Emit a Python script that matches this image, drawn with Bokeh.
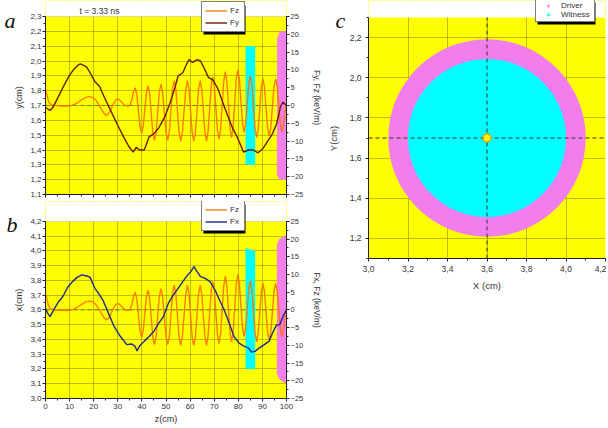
import math
from bokeh.plotting import figure
from bokeh.models import (Range1d, LinearAxis, Legend, LegendItem, Label, BoxAnnotation,
                          SingleIntervalTicker, CustomJSTickFormatter)
from bokeh.layouts import row, column
from bokeh.embed import file_html
from bokeh.resources import INLINE

# ---------------- data ----------------
# longitudinal field Fz (keV/m) along z (cm)
z_fz = [0.0, 0.6, 1.2, 2.0, 3.0, 5.0, 8.0, 10.0, 12.0, 13.5, 15.0, 16.5, 18.0, 19.5, 20.8,
        22.0, 23.2, 24.3, 25.2, 26.2, 27.2, 28.3, 29.5, 30.5, 31.7, 32.8, 34.0, 35.0, 35.8,
        36.5, 37.2,
        37.9, 38.55, 39.2, 39.9, 40.55, 41.2, 41.85, 42.5, 43.2, 43.85, 44.5, 45.2,
        45.9, 46.55, 47.2, 47.9, 48.6, 49.3, 50.0, 50.7, 51.4, 52.05, 52.7, 53.4,
        54.1, 54.75, 55.4, 56.1, 56.8, 57.5, 58.2, 58.9, 59.55, 60.2, 60.85, 61.5,
        62.2, 62.85, 63.5, 64.2, 64.85, 65.5, 66.15, 66.8, 67.45, 68.1, 68.75, 69.4,
        70.05, 70.7, 71.35, 72.0, 72.65, 73.3, 73.95, 74.6, 75.25, 75.9, 76.55, 77.2,
        77.85, 78.5, 79.15, 79.8, 80.45, 81.1, 81.75, 82.4, 83.05, 83.7, 84.35, 85.0,
        85.65, 86.3, 86.95, 87.6, 88.25, 88.9, 89.55, 90.2, 90.85, 91.5, 92.15, 92.8,
        93.5, 94.15, 94.8, 95.5, 96.15, 96.8, 97.45, 98.1, 98.8, 99.4, 100.0]
fz = [4.5, 3.0, 1.3, 0.4, 0.1, 0.0, -0.2, -0.1, 0.3, 0.9, 1.6, 2.2, 2.5, 2.3, 1.6,
      0.4, -1.0, -2.2, -2.8, -2.3, -1.0, 0.6, 1.8, 1.7, 0.9, 0.1, -0.2, 0.0, 1.5,
      3.8, 5.0,
      3.1, -1.4, -5.9, -7.8, -5.8, -1.1, 3.6, 5.6, 3.3, -2.1, -7.5, -9.8,
      -7.5, -1.9, 3.7, 6.0, 3.7, -1.9, -7.5, -9.8, -7.3, -1.4, 4.5, 7.0,
      4.5, -1.5, -7.5, -10.0, -7.5, -1.5, 4.5, 7.0, 4.5, -1.5, -7.5, -10.0,
      -7.5, -1.5, 4.5, 7.0, 4.5, -1.5, -7.5, -10.0, -7.4, -1.0, 5.4, 8.0,
      5.4, -0.8, -6.9, -9.5, -6.7, 0.0, 6.7, 9.5, 6.8, 0.3, -6.3, -9.0,
      -6.2, 0.5, 7.2, 10.0, 7.4, 1.2, -4.9, -7.5, -5.2, 0.4, 6.0, 8.3,
      5.8, -0.4, -6.5, -9.0, -6.6, -0.8, 5.1, 7.5, 5.2, -0.5, -6.2, -8.5,
      -6.2, -0.5, 5.2, 7.5, 5.3, 0.0, -5.3, -7.5, -5.0, -1.5, 0.5]

# transverse field Fy (keV/m), panel a
z_fy = [0.0, 1.0, 1.9, 3.2, 5.2, 7.2, 9.8, 11.8, 13.8, 14.5, 15.8, 17.1, 18.5, 20.5, 22.4,
        24.4, 27.1, 29.7, 32.4, 34.4, 36.4, 37.7, 39.0, 41.0, 43.0, 45.0, 47.0, 49.7,
        51.7, 53.7, 55.0, 57.0, 58.3, 59.6, 61.0, 62.9, 64.3, 65.6, 67.6, 69.6, 71.6,
        73.6, 75.6, 77.6, 79.5, 82.2, 84.2, 86.2, 88.2, 90.2, 92.2, 94.2, 95.9, 97.5,
        98.5, 99.9]
fy = [-0.5, -1.0, -1.4, -0.4, 2.3, 5.0, 8.3, 10.2, 11.5, 11.7, 11.3, 10.8, 9.2, 6.7, 5.4,
      2.3, -1.5, -5.2, -8.8, -11.3, -13.1, -11.7, -12.5, -12.5, -8.8, -7.9, -6.3, -2.9,
      0.8, 5.0, 8.3, 9.2, 11.3, 12.9, 12.1, 12.9, 12.5, 10.8, 7.9, 7.1, 4.6,
      0.8, -2.9, -6.3, -8.8, -13.1, -12.5, -12.5, -13.3, -12.1, -10.0, -7.9, -5.2, -0.4,
      1.0, 0.0]

# transverse field Fx (keV/m), panel b
z_fx = [0.0, 0.8, 1.9, 3.2, 5.2, 7.2, 9.2, 11.2, 13.1, 15.1, 17.1, 18.5, 20.5, 22.0, 23.8,
        25.8, 28.4, 31.1, 33.7, 35.7, 37.1, 38.0, 39.0, 41.0, 43.0, 45.0, 47.0, 49.0,
        51.0, 53.0, 55.0, 57.0, 59.0, 60.3, 61.6, 62.9, 64.3, 66.3, 68.3, 70.3, 72.2,
        74.2, 76.2, 78.2, 80.2, 82.2, 84.2, 85.5, 86.9, 88.8, 90.8, 92.8, 94.2, 95.9,
        97.2, 98.8, 100.0]
fx = [0.5, -0.8, -1.9, -0.2, 2.1, 3.8, 6.4, 8.0, 9.2, 9.9, 9.6, 9.2, 6.1, 4.7, 2.8,
      -0.4, -4.6, -7.5, -9.8, -9.6, -10.2, -11.6, -10.2, -8.8, -7.5, -6.0, -3.7, -1.8,
      1.9, 4.2, 6.1, 8.0, 9.9, 10.8, 12.2, 10.8, 9.4, 8.9, 8.0, 5.7, 2.8,
      0.0, -3.7, -7.5, -9.3, -10.2, -10.7, -11.9, -11.7, -10.7, -9.8, -8.8, -6.5, -4.2,
      -4.2, -1.4, 0.0]

# bunch regions (z in cm, transverse in cm)
witness_a_z = [83.0, 83.0, 87.0, 87.0]
witness_a_y = [1.30, 2.10, 2.10, 1.30]
driver_a_z = [96.0, 96.1, 97.2, 100.0, 100.0, 97.2, 96.1]
driver_a_y = [1.26, 2.15, 2.20, 2.20, 1.20, 1.20, 1.23]
witness_b_z = [83.0, 83.0, 87.0, 87.0]
witness_b_x = [3.20, 4.02, 4.00, 3.20]
driver_b_z = [96.0, 96.0, 97.0, 100.0, 100.0, 97.0]
driver_b_x = [3.17, 4.04, 4.08, 4.11, 3.10, 3.13]

z_lim = (0.0, 100.0)
y_lim_a = (1.1, 2.3)
x_lim_b = (3.0, 4.2)
f_lim = (-25.0, 25.0)
axis_y_a = 1.7
axis_x_b = 3.6

# transverse cross-section, panel c
X_lim = (3.0, 4.2)
Y_lim = (1.1, 2.3)
beam_x = [3.6]
beam_y = [1.7]
driver_r = 0.5
witness_r = 0.4
hole_r = 0.02

time_text = "t = 3.33 ns"

# ---------------- style ----------------
FONT = "Liberation Sans"
YELLOW = "#FFFF00"
CYAN = "#00FFFF"
PINK = "#F27EEE"
GRID = "#A0A000"
TXT = "#333333"
FZ_COLOR = "#FF7000"
FY_COLOR = "#6A2000"
FX_COLOR = "#1C2B8C"
EPS = 1e-9

comma = CustomJSTickFormatter(code="return tick.toFixed(1).replace('.', ',');")
blank = CustomJSTickFormatter(code="return '';")


def style_axis(ax, label=None):
    if label is not None:
        ax.axis_label = label
    ax.axis_label_text_font = FONT
    ax.axis_label_text_font_size = "9px"
    ax.axis_label_text_font_style = "normal"
    ax.axis_label_text_color = TXT
    ax.axis_label_standoff = 3
    ax.major_label_text_font = FONT
    ax.major_label_text_font_size = "8px"
    ax.major_label_text_color = TXT
    ax.major_label_standoff = 2
    ax.major_tick_out = 3
    ax.major_tick_in = 0
    ax.minor_tick_out = 2
    ax.minor_tick_in = 0
    ax.axis_line_color = "#222222"
    ax.major_tick_line_color = "#222222"
    ax.minor_tick_line_color = "#222222"


def add_legend(p, pairs, loc, glyph_width=22, label_h=11, label_w=11, pad=3, spacing=1):
    n = len(pairs)
    w = 2 * pad + glyph_width + 3 + label_w
    h = 2 * pad + n * label_h + (n - 1) * spacing
    # drop shadow behind the legend box
    p.add_layout(BoxAnnotation(left=loc[0] + 2, right=loc[0] + w + 2,
                               bottom=loc[1] - 2, top=loc[1] + h - 2,
                               left_units="screen", right_units="screen",
                               bottom_units="screen", top_units="screen",
                               fill_color="black", fill_alpha=1.0, line_color=None))
    lg = Legend(items=[LegendItem(label=t, renderers=[r]) for t, r in pairs], location=loc)
    lg.label_text_font = FONT
    lg.label_text_font_size = "8px"
    lg.label_text_color = TXT
    lg.glyph_width = glyph_width
    lg.glyph_height = label_h
    lg.label_height = label_h
    lg.label_width = label_w
    lg.label_standoff = 3
    lg.padding = pad
    lg.spacing = spacing
    lg.margin = 0
    lg.border_line_color = "black"
    lg.border_line_width = 1
    lg.background_fill_color = "white"
    lg.background_fill_alpha = 1.0
    p.add_layout(lg)


def letter(p, text, x, y):
    # placed in the left side panel, outside the plotting frame
    p.add_layout(Label(x=x, y=y, x_units="screen", y_units="screen", text=text,
                       text_font="Liberation Serif", text_font_style="italic",
                       text_font_size="22px", text_color="#111111",
                       text_baseline="alphabetic"), "left")


def field_panel(height, pad_top, frame_px, bottom, lim, ylabel, flabel, show_x):
    # the frame reaches the top of the canvas so the legend can sit above the data area
    ext = pad_top * (lim[1] - lim[0]) / frame_px
    y_top = lim[1] + ext
    f_top = f_lim[1] + ext * (f_lim[1] - f_lim[0]) / (lim[1] - lim[0])
    p = figure(width=325, height=height, x_range=Range1d(*z_lim), y_range=Range1d(lim[0], y_top),
               output_backend="svg", toolbar_location=None,
               min_border_left=42, min_border_right=32,
               min_border_top=0, min_border_bottom=bottom,
               background_fill_color=YELLOW, border_fill_color="white",
               outline_line_color=None)
    p.extra_y_ranges = {"F": Range1d(f_lim[0], f_top)}
    raxis = LinearAxis(y_range_name="F", bounds=(f_lim[0] - EPS, f_lim[1] + EPS),
                       ticker=SingleIntervalTicker(interval=5, num_minor_ticks=2))
    p.add_layout(raxis, "right")
    style_axis(raxis, flabel)
    raxis.major_label_text_font_size = "7.5px"
    raxis.axis_label_text_font_size = "8.5px"
    raxis.major_label_standoff = 1
    raxis.axis_label_standoff = 6
    lax = p.left[0]
    lax.bounds = (lim[0] - EPS, lim[1] + EPS)
    lax.ticker = SingleIntervalTicker(interval=0.1, num_minor_ticks=2)
    lax.formatter = comma
    style_axis(lax, ylabel)
    lax.major_label_standoff = 1
    bax = p.below[0]
    bax.ticker = SingleIntervalTicker(interval=10, num_minor_ticks=2)
    style_axis(bax, "z(cm)" if show_x else None)
    bax.axis_label_standoff = 2
    if not show_x:
        bax.formatter = blank
        bax.major_label_standoff = 0
    p.xgrid.ticker = SingleIntervalTicker(interval=10)
    p.ygrid.ticker = SingleIntervalTicker(interval=0.1)
    for g in (p.xgrid[0], p.ygrid[0]):
        g.grid_line_color = GRID
        g.grid_line_alpha = 0.7
        g.grid_line_width = 1
    # white strip above the data area
    p.quad(left=[z_lim[0]], right=[z_lim[1]], bottom=[lim[1]], top=[y_top],
           fill_color="white", line_color=None)
    return p


# ---------------- panel a ----------------
pa = field_panel(201, 16, 178, 7, y_lim_a, "y(cm)", "Fy, Fz (keV/m)", False)
pa.segment(x0=[z_lim[0]], y0=[axis_y_a], x1=[z_lim[1]], y1=[axis_y_a],
           line_color="#6F8A00", line_dash="4 3", line_width=1)
pa.patch(witness_a_z, witness_a_y, fill_color=CYAN, line_color=None)
pa.patch(driver_a_z, driver_a_y, fill_color=PINK, line_color=None)
r_fz_a = pa.line(z_fz, fz, y_range_name="F", line_color=FZ_COLOR, line_alpha=0.9, line_width=1.4)
r_fy = pa.line(z_fy, fy, y_range_name="F", line_color=FY_COLOR, line_width=1.4)
add_legend(pa, [("Fz", r_fz_a), ("Fy", r_fy)], (156, 162))
pa.add_layout(Label(x=34, y=184, x_units="screen", y_units="screen", text=time_text,
                    text_font=FONT, text_font_size="8.5px", text_color=TXT,
                    text_baseline="middle"))
letter(pa, "a", 4, 174)

# ---------------- panel b ----------------
pb = field_panel(225, 20, 178, 27, x_lim_b, "x(cm)", "Fx, Fz (keV/m)", True)
pb.segment(x0=[z_lim[0]], y0=[axis_x_b], x1=[z_lim[1]], y1=[axis_x_b],
           line_color="#6F8A00", line_dash="4 3", line_width=1)
pb.patch(witness_b_z, witness_b_x, fill_color=CYAN, line_color=None)
pb.patch(driver_b_z, driver_b_x, fill_color=PINK, line_color=None)
r_fz_b = pb.line(z_fz, fz, y_range_name="F", line_color=FZ_COLOR, line_alpha=0.9, line_width=1.4)
r_fx = pb.line(z_fx, fx, y_range_name="F", line_color=FX_COLOR, line_width=1.4)
add_legend(pb, [("Fz", r_fz_b), ("Fx", r_fx)], (156, 167))
letter(pb, "b", 6, 174)

# ---------------- panel c ----------------
c_pad, c_frame = 17, 241
Y_top = Y_lim[1] + c_pad * (Y_lim[1] - Y_lim[0]) / c_frame
pc = figure(width=281, height=294, x_range=Range1d(*X_lim), y_range=Range1d(Y_lim[0], Y_top),
            output_backend="svg", toolbar_location=None,
            min_border_left=40, min_border_right=1, min_border_top=0, min_border_bottom=36,
            background_fill_color=YELLOW, border_fill_color="white", outline_line_color=None)
for ax in (pc.below[0], pc.left[0]):
    ax.ticker = SingleIntervalTicker(interval=0.2, num_minor_ticks=2)
    ax.formatter = comma
    style_axis(ax)
    ax.major_label_text_font_size = "8.5px"
    ax.major_label_standoff = 4
pc.below[0].axis_label = "X (cm)"
pc.below[0].axis_label_text_font_size = "9.5px"
pc.below[0].axis_label_standoff = 5
pc.left[0].bounds = (Y_lim[0] - EPS, Y_lim[1] + EPS)
for g in (pc.xgrid[0], pc.ygrid[0]):
    g.ticker = SingleIntervalTicker(interval=0.2)
    g.grid_line_color = GRID
    g.grid_line_alpha = 0.7
pc.quad(left=[X_lim[0]], right=[X_lim[1]], bottom=[Y_lim[1]], top=[Y_top],
        fill_color="white", line_color=None)
pc.circle(beam_x, beam_y, radius=driver_r, fill_color=PINK, line_color=None)
pc.circle(beam_x, beam_y, radius=witness_r, fill_color=CYAN, line_color=None)
pc.segment(x0=beam_x, y0=[Y_lim[0]], x1=beam_x, y1=[Y_lim[1]],
           line_color="#333333", line_dash="4 3", line_width=1)
pc.segment(x0=[X_lim[0]], y0=beam_y, x1=[X_lim[1]], y1=beam_y,
           line_color="#333333", line_dash="4 3", line_width=1)
m_drv = pc.scatter(beam_x, beam_y, marker="cross", size=6, line_color=PINK, line_width=1.2)
m_wit = pc.scatter(beam_x, beam_y, marker="cross", size=6, line_color=CYAN, line_width=1.2)
pc.circle(beam_x, beam_y, radius=hole_r, fill_color=YELLOW, line_color="#E8A000", line_width=1.5)
add_legend(pc, [("Driver", m_drv), ("Witness", m_wit)], (167, 236),
           glyph_width=20, label_h=9, label_w=31, pad=2, spacing=0)
# y-axis title, drawn in the left side panel next to the tick labels
pc.add_layout(Label(x=-2, y=120, x_units="screen", y_units="screen", text="Y(cm)",
                    angle=math.pi / 2, text_align="center", text_baseline="middle",
                    text_font=FONT, text_font_size="9.5px", text_color=TXT), "left")
letter(pc, "c", 10, 238)

layout = row(column(pa, pb), pc)
open("out.html", "w").write(file_html(layout, INLINE))
